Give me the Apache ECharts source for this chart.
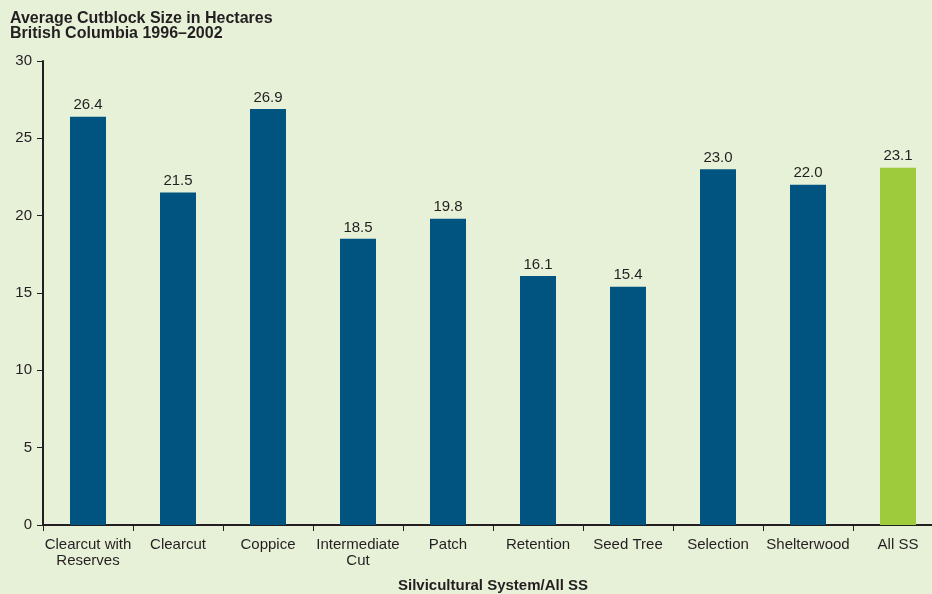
<!DOCTYPE html>
<html>
<head>
<meta charset="utf-8">
<script src="https://cdn.jsdelivr.net/npm/echarts@6/dist/echarts.min.js"></script>
<style>
  html, body { margin: 0; padding: 0; background: #e7f1d8; }
  #chart { width: 932px; height: 594px; }
</style>
</head>
<body>
<div id="chart"></div>
<script>
// Average cutblock size (ha) by silvicultural system, BC 1996–2002
const categories = ['Clearcut with\nReserves', 'Clearcut', 'Coppice', 'Intermediate\nCut', 'Patch',
  'Retention', 'Seed Tree', 'Selection', 'Shelterwood', 'All SS'];
const sizes = [26.4, 21.5, 26.9, 18.5, 19.8, 16.1, 15.4, 23.0, 22.0, 23.1];
const yTicks = [0, 5, 10, 15, 20, 25, 30];

const BLUE = '#00547f';
const GREEN = '#9dcb3c';
const INK = '#231f20';
const FONT = '"Liberation Sans", Arial, Helvetica, sans-serif';

const chart = echarts.init(document.getElementById('chart'), null, { renderer: 'canvas' });

chart.setOption({
  backgroundColor: '#e7f1d8',
  animation: false,
  textStyle: { fontFamily: FONT },
  title: {
    text: 'Average Cutblock Size in Hectares\nBritish Columbia 1996\u20132002',
    left: 5,
    top: 6,
    textStyle: { fontFamily: FONT, fontSize: 16, fontWeight: 'bold', color: INK, lineHeight: 15 }
  },
  // the last category runs past the right edge of the canvas
  grid: { left: 43, top: 61, width: 900, height: 464, containLabel: false, outerBoundsMode: 'none' },
  xAxis: {
    type: 'category',
    data: categories,
    name: 'Silvicultural System/All SS',
    nameLocation: 'middle',
    nameGap: 53,
    nameTextStyle: { fontFamily: FONT, fontSize: 15, fontWeight: 'bold', color: INK },
    axisLine: { lineStyle: { color: INK, width: 2 } },
    axisTick: { show: true, length: 6, lineStyle: { color: INK, width: 1 } },
    axisLabel: { fontFamily: FONT, fontSize: 15, color: INK, margin: 12, lineHeight: 16, interval: 0 }
  },
  yAxis: {
    type: 'value',
    min: yTicks[0],
    max: yTicks[yTicks.length - 1],
    interval: 5,
    axisLine: { show: true, lineStyle: { color: INK, width: 2 } },
    axisTick: { show: true, length: 6, lineStyle: { color: INK, width: 1 } },
    axisLabel: { fontFamily: FONT, fontSize: 15, color: INK, margin: 11 },
    splitLine: { show: false }
  },
  series: [{
    type: 'bar',
    data: sizes.map((v, i) => ({
      value: v,
      itemStyle: { color: i === sizes.length - 1 ? GREEN : BLUE }
    })),
    barWidth: 36,
    label: {
      show: true,
      position: 'top',
      distance: 4,
      fontFamily: FONT,
      fontSize: 15,
      color: INK,
      formatter: p => p.value.toFixed(1)
    }
  }]
});
</script>
</body>
</html>
